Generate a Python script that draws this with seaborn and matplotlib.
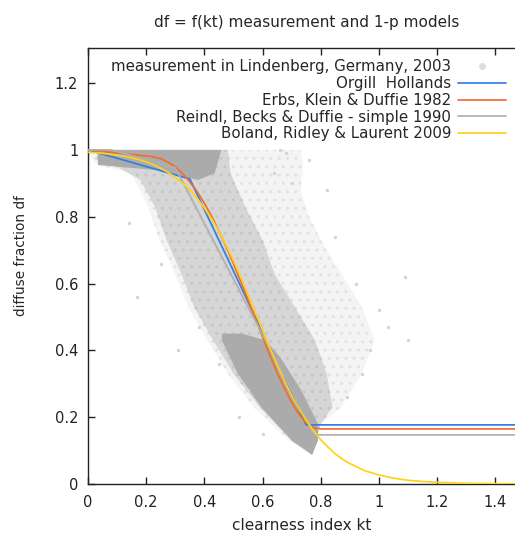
import numpy as np
import pandas as pd
import matplotlib
matplotlib.use("Agg")
import matplotlib.pyplot as plt
import seaborn as sns
from matplotlib.lines import Line2D

# model curves (kt, df)
oh_kt = [0.0, 0.35, 0.75, 1.47]
oh_df = [1.0, 0.913, 0.177, 0.177]

erbs_kt = [0.0, 0.10, 0.22, 0.25, 0.275, 0.30, 0.325, 0.35, 0.375, 0.40, 0.425, 0.45, 0.475, 0.50, 0.525,
           0.55, 0.575, 0.60, 0.625, 0.65, 0.675, 0.70, 0.725, 0.75, 0.775, 0.80, 1.47]
erbs_df = [1.0, 0.991, 0.980, 0.974, 0.963, 0.949, 0.929, 0.904, 0.875, 0.840, 0.801, 0.757, 0.710, 0.659, 0.606,
           0.551, 0.495, 0.440, 0.385, 0.333, 0.286, 0.244, 0.209, 0.183, 0.168, 0.165, 0.165]

reindl_kt = [0.0, 0.08, 0.30, 0.78, 1.47]
reindl_df = [1.0, 1.0, 0.946, 0.147, 0.147]

boland_kt = [0.0, 0.05, 0.10, 0.125, 0.15, 0.175, 0.20, 0.225, 0.25, 0.275, 0.30, 0.325, 0.35, 0.375, 0.40,
             0.425, 0.45, 0.475, 0.50, 0.525, 0.55, 0.575, 0.60, 0.625, 0.65, 0.675, 0.70, 0.725, 0.75,
             0.775, 0.80, 0.825, 0.85, 0.875, 0.90, 0.95, 1.00, 1.05, 1.10, 1.15, 1.20, 1.30, 1.47]
boland_df = [0.993, 0.990, 0.984, 0.981, 0.976, 0.971, 0.964, 0.956, 0.945, 0.933, 0.918, 0.901, 0.880, 0.855, 0.826,
             0.793, 0.756, 0.714, 0.668, 0.619, 0.567, 0.514, 0.460, 0.407, 0.357, 0.309, 0.265, 0.225, 0.190,
             0.159, 0.132, 0.110, 0.090, 0.074, 0.061, 0.040, 0.027, 0.0175, 0.011, 0.0075, 0.005, 0.002, 0.0005]

halo_kt = [0.00, 0.73, 0.74, 0.73, 0.76, 0.80, 0.87, 0.94, 0.985, 0.94, 0.87, 0.80, 0.77, 0.69, 0.57, 0.48, 0.41,
           0.344, 0.298, 0.246, 0.206, 0.149, 0.034, 0.00]
halo_df = [1.00, 1.00, 0.95, 0.88, 0.80, 0.73, 0.63, 0.53, 0.43, 0.33, 0.23, 0.18, 0.087, 0.13, 0.23, 0.33, 0.43,
           0.53, 0.63, 0.73, 0.83, 0.93, 0.955, 0.99]

mid_kt = [0.03, 0.48, 0.49, 0.54, 0.60, 0.64, 0.71, 0.78, 0.82, 0.84, 0.80, 0.77, 0.70, 0.59, 0.50,
          0.43, 0.365, 0.32, 0.27, 0.23, 0.18, 0.10, 0.03]
mid_df = [1.00, 1.00, 0.93, 0.83, 0.73, 0.63, 0.53, 0.43, 0.33, 0.23, 0.18, 0.09, 0.13, 0.23, 0.33,
          0.43, 0.53, 0.63, 0.73, 0.83, 0.91, 0.95, 0.97]

core_top_kt = [0.034, 0.458, 0.435, 0.378, 0.30, 0.23, 0.10, 0.034]
core_top_df = [1.00, 1.00, 0.93, 0.91, 0.925, 0.94, 0.95, 0.955]

core_low_kt = [0.46, 0.53, 0.61, 0.66, 0.733, 0.79, 0.79, 0.77, 0.70, 0.595, 0.515, 0.46]
core_low_df = [0.45, 0.45, 0.43, 0.38, 0.28, 0.18, 0.13, 0.087, 0.13, 0.23, 0.33, 0.43]

# scattered single measurements at the edge of the cloud
spk_kt = [1.09, 1.10, 0.17, 0.31, 0.85, 0.14, 1.03, 0.76, 0.64, 1.00, 0.94, 0.89, 0.52, 0.60, 0.68,
          0.82, 0.92, 0.97, 0.25, 0.38, 0.45, 0.55, 0.66, 0.70]
spk_df = [0.62, 0.43, 0.56, 0.40, 0.74, 0.78, 0.47, 0.97, 0.93, 0.52, 0.33, 0.26, 0.20, 0.15, 0.99,
          0.88, 0.60, 0.40, 0.66, 0.47, 0.36, 0.28, 1.00, 0.90]

labels = ["measurement in Lindenberg, Germany, 2003", "Orgill  Hollands",
          "Erbs, Klein & Duffie 1982", "Reindl, Becks & Duffie - simple 1990",
          "Boland, Ridley & Laurent 2009"]
colors = ["#ababab", "#2f7fe8", "#f36c2b", "#b0b0b0", "#ffd21a"]

sns.set_style("ticks")
plt.rcParams['font.family'] = ['DejaVu Sans']
plt.rcParams['hatch.linewidth'] = 1.0

fig = plt.figure(figsize=(5.15, 5.36), dpi=100)
ax = fig.add_axes([0.1709, 0.097, 0.8291, 0.8134])

ax.fill(halo_kt, halo_df, facecolor="#f4f4f4", edgecolor="#e2e2e2", hatch="..", lw=0, zorder=1)
ax.fill(mid_kt, mid_df, facecolor="#d6d6d6", edgecolor="#c6c6c6", hatch="..", lw=0, zorder=1)
ax.fill(core_top_kt, core_top_df, color="#ababab", lw=0, zorder=1)
ax.fill(core_low_kt, core_low_df, color="#ababab", lw=0, zorder=1)
sns.scatterplot(x=spk_kt, y=spk_df, color="#d4d4d4", s=6, linewidth=0, ax=ax, zorder=2)

curves = [(oh_kt, oh_df), (erbs_kt, erbs_df), (reindl_kt, reindl_df), (boland_kt, boland_df)]
order = [2, 0, 1, 3]
for i in order:
    kt, df = curves[i]
    sns.lineplot(x=kt, y=df, sort=False, estimator=None, color=colors[i + 1], lw=1.25, ax=ax, zorder=3 + i)

ax.set_xlim(0, 1.467)
ax.set_ylim(0, 1.305)
ax.set_xticks(np.arange(0, 1.41, 0.2))
ax.set_xticklabels(["0", "0.2", "0.4", "0.6", "0.8", "1", "1.2", "1.4"])
ax.set_yticks(np.arange(0, 1.21, 0.2))
ax.set_yticklabels(["0", "0.2", "0.4", "0.6", "0.8", "1", "1.2"])
ax.tick_params(direction="in", length=5, width=1, labelsize=10.5, top=True, colors="#222222")
ax.tick_params(axis="x", pad=8)
ax.tick_params(axis="y", pad=7)
for s in ["left", "bottom", "top"]:
    ax.spines[s].set_color("#222222")
    ax.spines[s].set_linewidth(1)
ax.spines["right"].set_visible(False)

ax.set_xlabel("clearness index kt", fontsize=11, labelpad=6)
ax.set_ylabel("diffuse fraction df", fontsize=9.8, labelpad=19)
ax.yaxis.label.set_y(0.525)
fig.text(0.596, 0.958, "df = f(kt) measurement and 1-p models", ha="center", va="center", fontsize=11)

handles = [Line2D([], [], ls="", marker="o", ms=4, color="#dddddd")]
handles += [Line2D([], [], color=c, lw=1.25) for c in colors[1:]]
ax.legend(handles, labels, loc="upper right", markerfirst=False, frameon=False, fontsize=10.8,
          handlelength=3.2, handletextpad=0.45, labelspacing=0.12, borderaxespad=0.2,
          bbox_to_anchor=(1.0, 0.995))

fig.savefig("out.png", dpi=100)
